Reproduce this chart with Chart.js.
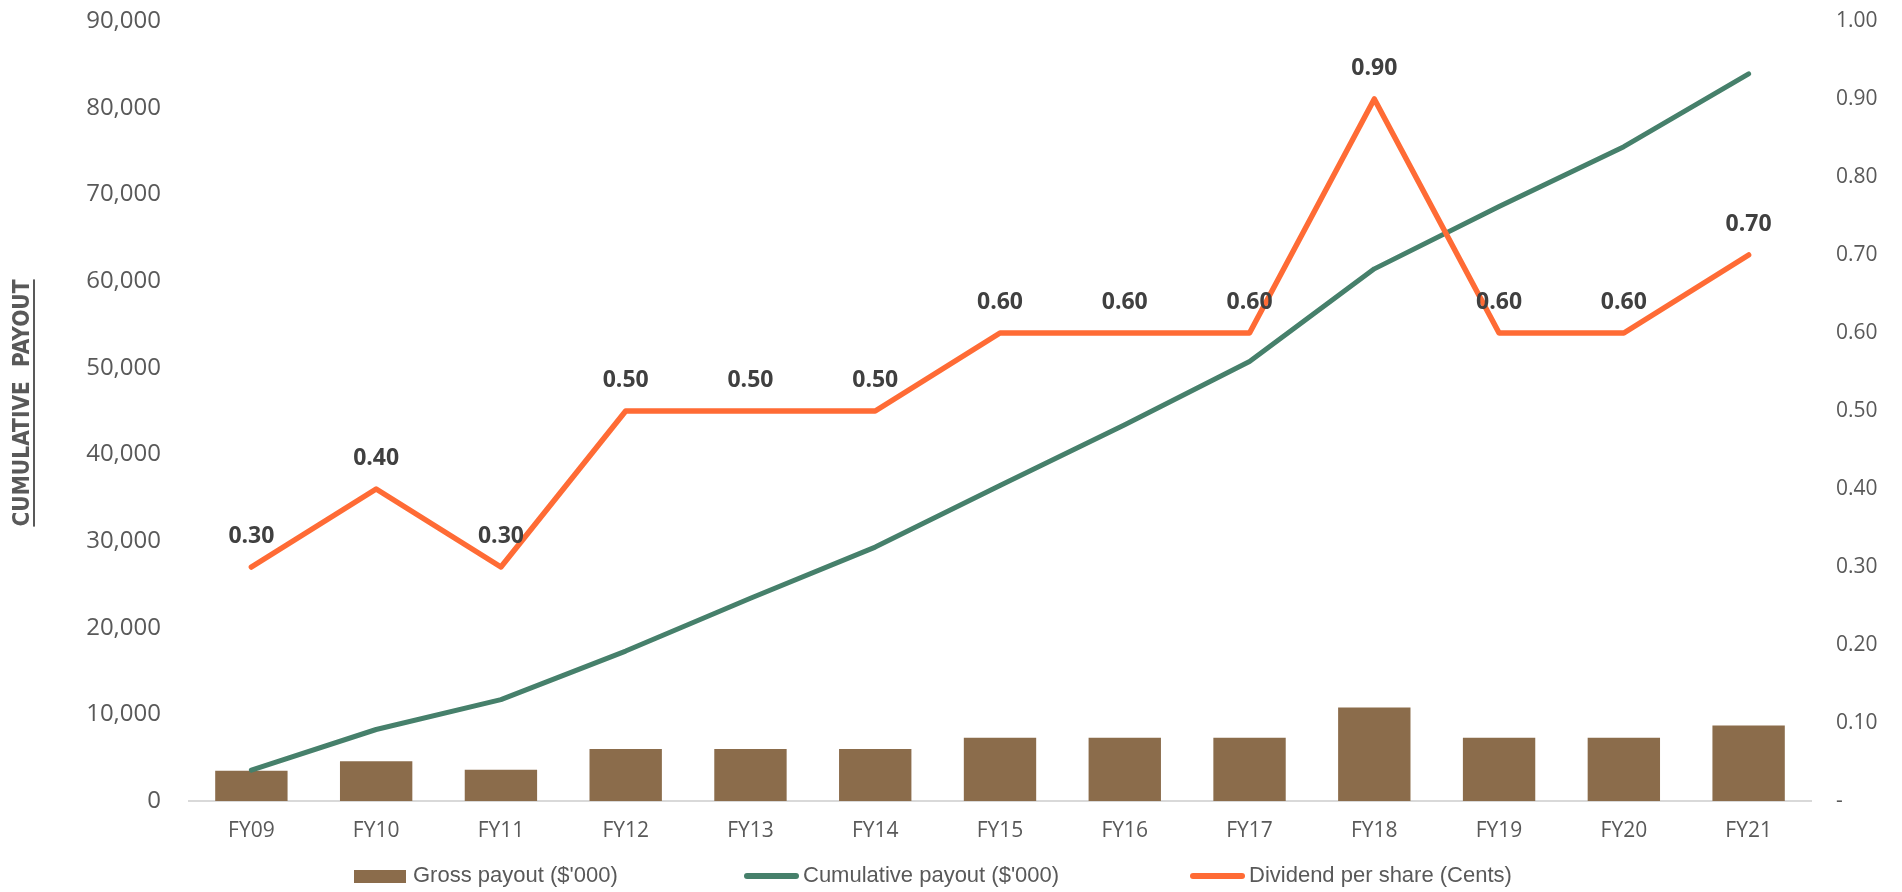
<!DOCTYPE html>
<html>
<head>
<meta charset="utf-8">
<title>Dividend payout</title>
<script src="https://cdn.jsdelivr.net/npm/chart.js@4/dist/chart.umd.min.js"></script>
<style>
  html, body { margin: 0; padding: 0; background: #fff; }
  #wrap { width: 1902px; height: 892px; position: relative; }
</style>
</head>
<body>
<div id="wrap"><canvas id="payoutChart"></canvas></div>
<script>
const years = ['FY09', 'FY10', 'FY11', 'FY12', 'FY13', 'FY14', 'FY15', 'FY16', 'FY17', 'FY18', 'FY19', 'FY20', 'FY21'];
const grossPayout = [3500, 4600, 3600, 6000, 6000, 6000, 7300, 7300, 7300, 10800, 7300, 7300, 8700];
const cumulativePayout = [3550, 8250, 11700, 17300, 23400, 29300, 36400, 43400, 50700, 61400, 68600, 75500, 83900];
const dividendPerShare = [0.30, 0.40, 0.30, 0.50, 0.50, 0.50, 0.60, 0.60, 0.60, 0.90, 0.60, 0.60, 0.70];
const leftTicks = [0, 10000, 20000, 30000, 40000, 50000, 60000, 70000, 80000, 90000];
const rightTicks = [0, 0.1, 0.2, 0.3, 0.4, 0.5, 0.6, 0.7, 0.8, 0.9, 1.0];

const BROWN = '#8b6c4b';
const GREEN = '#46806b';
const ORANGE = '#ff6b35';
const GREY = '#595959';
const FONT = "'Open Sans', sans-serif";

// labels above the dividend points
const dpsLabels = {
  id: 'dpsLabels',
  afterDatasetsDraw(chart) {
    const ctx = chart.ctx;
    const meta = chart.getDatasetMeta(2);
    ctx.save();
    ctx.font = 'bold 23px ' + FONT;
    ctx.fillStyle = '#404040';
    ctx.textAlign = 'center';
    ctx.textBaseline = 'middle';
    meta.data.forEach((pt, i) => {
      ctx.fillText(dividendPerShare[i].toFixed(2), pt.x, pt.y - 31);
    });
    ctx.restore();
  }
};

// rotated, underlined axis title + legend row
const extras = {
  id: 'extras',
  afterDraw(chart) {
    const ctx = chart.ctx;
    ctx.save();
    const title = 'CUMULATIVE  PAYOUT';
    const fam = "'Liberation Sans Narrow', 'DejaVu Sans Condensed', sans-serif";
    ctx.translate(23, 403);
    ctx.rotate(-Math.PI / 2);
    ctx.font = 'bold 22px ' + fam;
    let w = ctx.measureText(title).width;
    const size = 22 * 247 / w;
    ctx.font = 'bold ' + size.toFixed(1) + 'px ' + fam;
    w = ctx.measureText(title).width;
    ctx.fillStyle = GREY;
    ctx.textAlign = 'center';
    ctx.textBaseline = 'middle';
    ctx.fillText(title, 0, 0);
    ctx.fillRect(-w / 2, 10, w, 2);
    ctx.restore();

    // legend
    const items = [
      { x: 354, text: "Gross payout ($'000)", color: BROWN, bar: true },
      { x: 744, text: "Cumulative payout ($'000)", color: GREEN },
      { x: 1190, text: 'Dividend per share (Cents)', color: ORANGE }
    ];
    const ly = 876;
    ctx.save();
    ctx.font = "22px 'Liberation Sans', Arial, sans-serif";
    ctx.textBaseline = 'middle';
    items.forEach(it => {
      if (it.bar) {
        ctx.fillStyle = it.color;
        ctx.fillRect(it.x, ly - 6, 52, 13);
      } else {
        ctx.strokeStyle = it.color;
        ctx.lineWidth = 6;
        ctx.lineCap = 'round';
        ctx.beginPath();
        ctx.moveTo(it.x + 3, ly);
        ctx.lineTo(it.x + 52, ly);
        ctx.stroke();
      }
      ctx.fillStyle = GREY;
      ctx.fillText(it.text, it.x + 59, ly);
    });
    ctx.restore();
  }
};

function noVPad(scale) {
  scale.paddingTop = 0;
  scale.paddingBottom = 0;
}

const ctx = document.getElementById('payoutChart').getContext('2d');
const chart = new Chart(ctx, {
  data: {
    labels: years,
    datasets: [{
      type: 'bar',
      label: "Gross payout ($'000)",
      data: grossPayout,
      backgroundColor: BROWN,
      yAxisID: 'y',
      categoryPercentage: 1,
      barPercentage: 0.58,
      order: 3
    }, {
      type: 'line',
      label: "Cumulative payout ($'000)",
      data: cumulativePayout,
      borderColor: GREEN,
      borderWidth: 5,
      borderCapStyle: 'round',
      borderJoinStyle: 'round',
      pointRadius: 0,
      tension: 0,
      yAxisID: 'y',
      order: 2
    }, {
      type: 'line',
      label: 'Dividend per share (Cents)',
      data: dividendPerShare,
      borderColor: ORANGE,
      borderWidth: 5.5,
      borderCapStyle: 'round',
      borderJoinStyle: 'round',
      pointRadius: 0,
      tension: 0,
      yAxisID: 'y1',
      order: 1
    }]
  },
  options: {
    responsive: true,
    maintainAspectRatio: false,
    animation: false,
    layout: { padding: { top: 21, left: 0, right: 0, bottom: 0 } },
    plugins: {
      legend: { display: false },
      tooltip: { enabled: false }
    },
    scales: {
      x: {
        grid: { display: false, drawTicks: false },
        border: { display: true, color: '#d9d9d9', width: 2 },
        ticks: { color: GREY, font: { family: FONT, size: 21 }, padding: 17 },
        afterFit(scale) { scale.height = 91; }
      },
      y: {
        position: 'left',
        min: 0,
        max: 90000,
        grid: { display: false, drawTicks: false },
        border: { display: false },
        afterBuildTicks(scale) { scale.ticks = leftTicks.map(v => ({ value: v })); },
        ticks: {
          color: GREY,
          font: { family: FONT, size: 24 },
          padding: 28,
          callback: v => v.toLocaleString('en-US')
        },
        afterFit(scale) { scale.width = 189; noVPad(scale); }
      },
      y1: {
        position: 'right',
        min: 0,
        max: 1,
        grid: { display: false, drawTicks: false },
        border: { display: false },
        afterBuildTicks(scale) { scale.ticks = rightTicks.map(v => ({ value: v })); },
        ticks: {
          color: GREY,
          font: { family: FONT, size: 21 },
          padding: 25,
          callback: v => v === 0 ? '-' : v.toFixed(2)
        },
        afterFit(scale) { scale.width = 91; noVPad(scale); }
      }
    }
  },
  plugins: [dpsLabels, extras]
});
</script>
</body>
</html>
